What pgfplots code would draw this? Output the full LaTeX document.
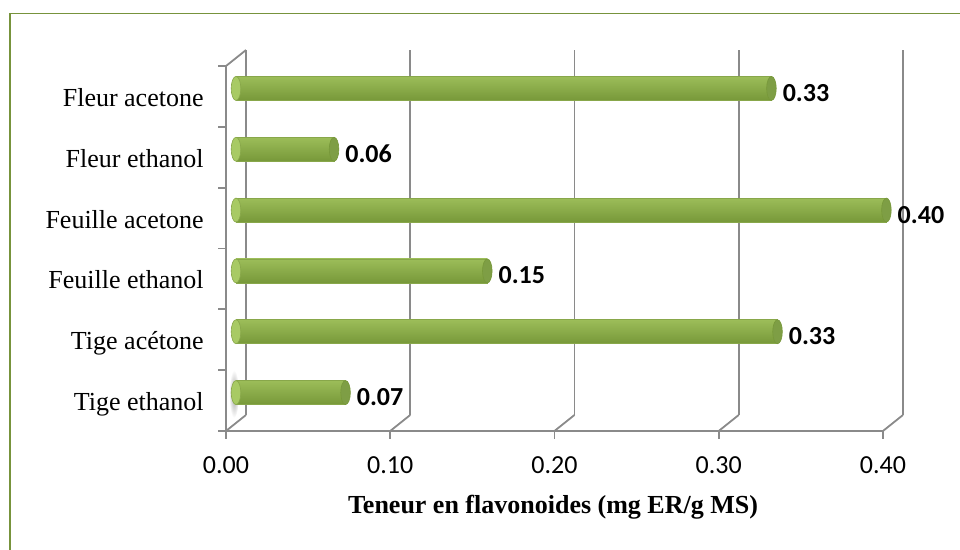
\documentclass[border=0pt]{standalone}
\usepackage{pgfplots}
\pgfplotsset{compat=1.18}
\usepackage{fontspec}
\setmainfont{Liberation Serif}
\newfontfamily\calibri{Carlito}
\definecolor{framec}{HTML}{77933C}
\definecolor{gridc}{HTML}{8A8A8A}
\definecolor{gtop}{HTML}{9CBD59}
\definecolor{gmid}{HTML}{B4D76D}
\definecolor{gbot}{HTML}{779839}
\definecolor{gcap}{HTML}{7E9E45}
\definecolor{gstart}{HTML}{A8CA64}
\definecolor{gedge}{HTML}{88A74A}
\pgfplotsset{
  cylbar/.style={xbar, bar width=12pt, draw=gedge, line width=0.3pt,
    top color=gtop, middle color=gmid, bottom color=gbot,
    nodes near coords,
    nodes near coords style={font=\calibri\bfseries\fontsize{13pt}{15pt}\selectfont, anchor=west, inner sep=0pt, xshift=5.5pt, yshift=-2.25pt,
      /pgf/number format/.cd, fixed, fixed zerofill, precision=2, assume math mode=true}},
}
\begin{document}
\begin{tikzpicture}
\useasboundingbox (0,0) rectangle (480pt,275pt);
\draw[framec, line width=0.8pt] (5pt,-20pt) rectangle (500pt,268.25pt);
\shade[inner color=gray!75, outer color=white] (117pt,78pt) ellipse (2.5pt and 12pt);
\begin{axis}[
  at={(118pt,63.5pt)}, anchor=south west, scale only axis,
  width=328.5pt, height=182.5pt,
  xmin=0, xmax=0.4, ymin=-0.5, ymax=5.5,
  axis line style={draw=none}, tick style={draw=none},
  xtick={0,0.1,0.2,0.3,0.4},
  xticklabels={0.00,0.10,0.20,0.30,0.40},
  ytick={0,1,2,3,4,5},
  yticklabels={Tige ethanol, Tige acétone, Feuille ethanol, Feuille acetone, Fleur ethanol, Fleur acetone},
  xticklabel style={font=\calibri\fontsize{13pt}{15pt}\selectfont, anchor=base, inner sep=0pt, xshift=-5pt, yshift=-25.5pt},
  yticklabel style={font=\fontsize{13pt}{15pt}\selectfont, anchor=base east, inner sep=0pt, xshift=-16pt, yshift=-9pt},
  clip=false,
]
% back wall gridlines, floor diagonals, ticks
\pgfplotsinvokeforeach{0,0.1,0.2,0.3,0.4}{
  \draw[gridc, line width=0.9pt] ([xshift=5pt,yshift=4pt]axis cs:#1,-0.5) -- ([xshift=5pt,yshift=4pt]axis cs:#1,5.5);
  \draw[gridc, line width=0.9pt] ([xshift=-5pt,yshift=-4pt]axis cs:#1,-0.5) -- ([xshift=5pt,yshift=4pt]axis cs:#1,-0.5);
  \draw[gridc, line width=0.9pt] ([xshift=-5pt,yshift=-4pt]axis cs:#1,-0.5) -- ([xshift=-5pt,yshift=-7.8pt]axis cs:#1,-0.5);
}
\pgfplotsinvokeforeach{-0.5,0.5,1.5,2.5,3.5,4.5,5.5}{
  \draw[gridc, line width=0.9pt] ([xshift=-5pt,yshift=-4pt]axis cs:0,#1) -- ([xshift=-8.8pt,yshift=-4pt]axis cs:0,#1);
}
\draw[gridc, line width=0.9pt] ([xshift=-5pt,yshift=-4pt]axis cs:0,-0.5) -- ([xshift=-5pt,yshift=-4pt]axis cs:0,5.5) -- ([xshift=5pt,yshift=4pt]axis cs:0,5.5);
\draw[gridc, line width=0.9pt] ([xshift=-5pt,yshift=-4pt]axis cs:0,-0.5) -- ([xshift=-5pt,yshift=-4pt]axis cs:0.4,-0.5);
% start caps
\addplot[only marks, mark=*, mark size=6pt, mark options={xscale=0.4, fill=gstart, draw=gedge, line width=0.3pt}, forget plot]
  coordinates {(0,0) (0,1) (0,2) (0,3) (0,4) (0,5)};
% bars (one plot per bar so each has its own shading)
\addplot[cylbar] coordinates {(0.0667,0)};
\addplot[cylbar] coordinates {(0.3297,1)};
\addplot[cylbar] coordinates {(0.153,2)};
\addplot[cylbar] coordinates {(0.396,3)};
\addplot[cylbar] coordinates {(0.0597,4)};
\addplot[cylbar] coordinates {(0.326,5)};
% end caps
\addplot[only marks, mark=*, mark size=6pt, mark options={xscale=0.4, fill=gcap, draw=gbot, line width=0.3pt}, forget plot]
  coordinates {(0.0667,0) (0.3297,1) (0.153,2) (0.396,3) (0.0597,4) (0.326,5)};
\end{axis}
\node[font=\bfseries\fontsize{13pt}{15pt}\selectfont, anchor=base, inner sep=0pt] at (276.5pt,18pt) {Teneur en flavonoides (mg ER/g MS)};
\end{tikzpicture}
\end{document}
